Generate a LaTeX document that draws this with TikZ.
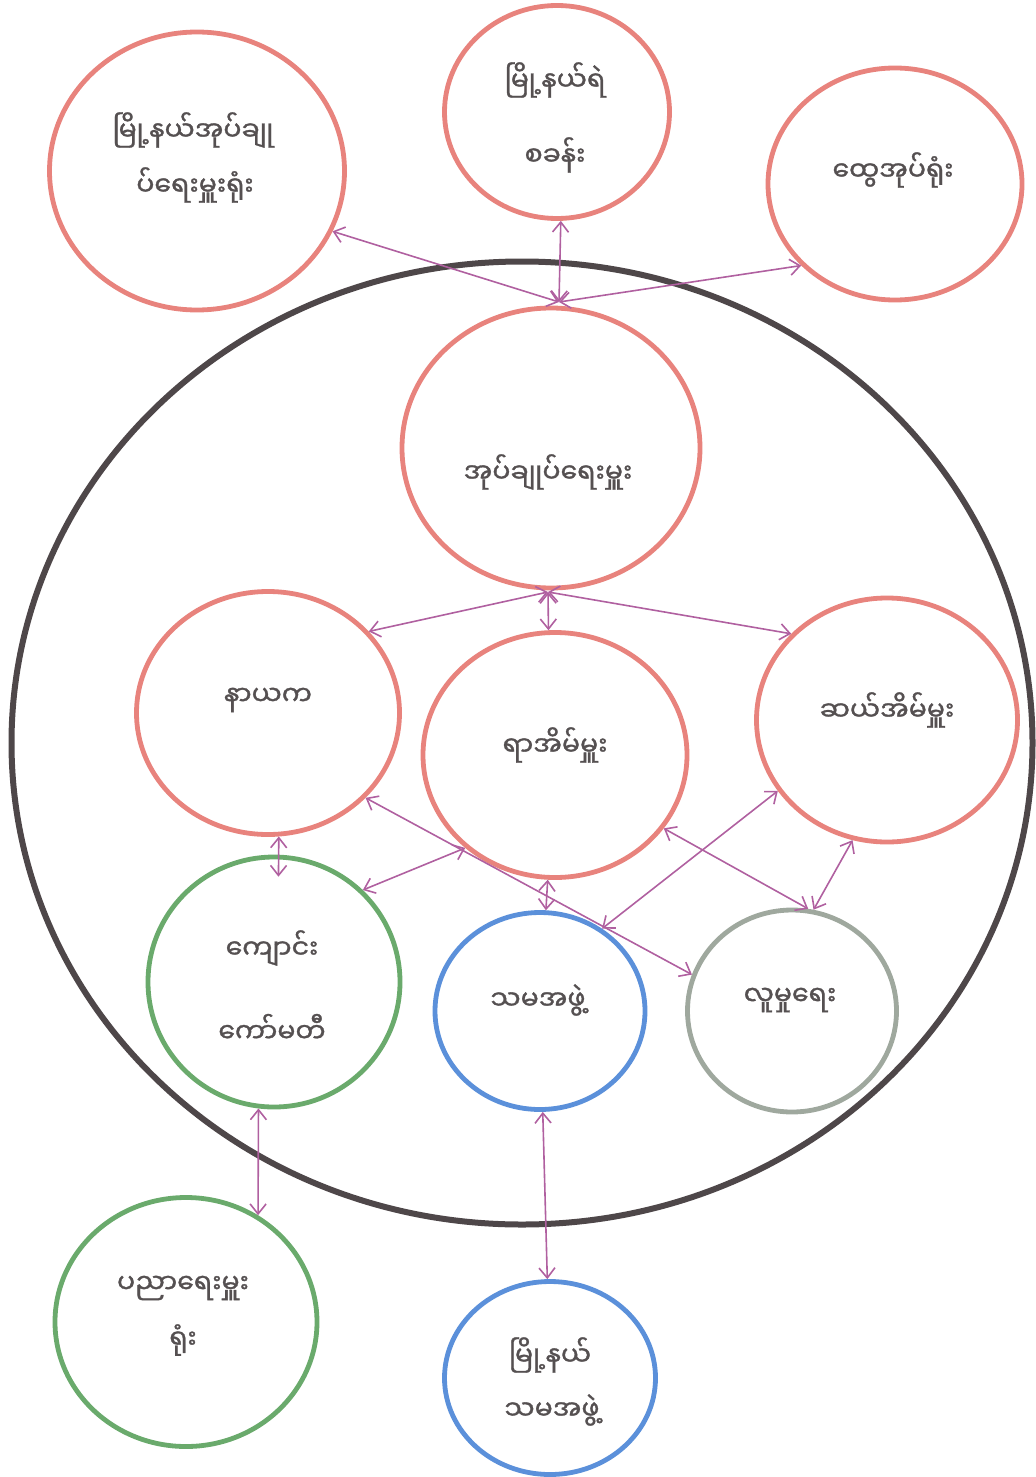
\documentclass[tikz,border=0pt]{standalone}
\usepackage{fontspec}
\newfontfamily\myan[Script=Myanmar,FakeBold=1.2]{Noto Sans Myanmar UI}
\usetikzlibrary{shapes.geometric,arrows.meta}
\definecolor{redc}{HTML}{E8837D}
\definecolor{greenc}{HTML}{6AAA6C}
\definecolor{bluec}{HTML}{5B90DA}
\definecolor{grayc}{HTML}{9FA89E}
\definecolor{outerc}{HTML}{4E4749}
\definecolor{arrc}{HTML}{B060A0}
\definecolor{txtc}{HTML}{555051}
\tikzset{
  circ/.style={ellipse, draw, line width=2.4pt, inner sep=0pt},
  txt/.style={text=txtc, font=\myan\fontsize{13.4}{15}\selectfont, inner sep=0pt},
  link/.style={draw=arrc, line width=0.8pt, {Straight Barb[length=5pt,width=8pt]}-{Straight Barb[length=5pt,width=8pt]}},
}
\begin{document}
\begin{tikzpicture}[x=0.5pt,y=-0.5pt]
\useasboundingbox (0,0) rectangle (1035,1477);
% outer circle
\node[ellipse, draw=outerc, line width=3pt, minimum width=510.5pt, minimum height=481.5pt, inner sep=0pt] (outer) at (522,743) {};
% circles
\node[circ, draw=redc, minimum width=147.5pt, minimum height=139pt] (tl) at (197,171) {};
\node[circ, draw=redc, minimum width=112.5pt, minimum height=106.5pt] (tm) at (557,112) {};
\node[circ, draw=redc, minimum width=127pt, minimum height=116pt] (tr) at (895,184) {};
\node[circ, draw=redc, minimum width=149pt, minimum height=140pt] (ups) at (551,448) {};
\node[circ, draw=redc, minimum width=131.5pt, minimum height=121.5pt] (nay) at (268,713) {};
\node[circ, draw=redc, minimum width=132pt, minimum height=122.5pt] (ya) at (555,755) {};
\node[circ, draw=redc, minimum width=130.5pt, minimum height=122pt] (se) at (887,720) {};
\node[circ, draw=greenc, minimum width=126pt, minimum height=125pt] (kg) at (274,982) {};
\node[circ, draw=bluec, minimum width=105pt, minimum height=98.5pt] (sm) at (540,1011) {};
\node[circ, draw=grayc, minimum width=104.5pt, minimum height=101pt] (lm) at (792,1011) {};
\node[circ, draw=greenc, minimum width=131pt, minimum height=124.5pt] (pd) at (186,1322) {};
\node[circ, draw=bluec, minimum width=105.5pt, minimum height=96.5pt] (msm) at (550,1378) {};
% texts
\node[txt] (tla) at (193,130) {မြို့နယ်အုပ်ချု};
\node[txt] (tlb) at (195,185) {ပ်ရေးမှူးရုံး};
\node[txt] (tma) at (555,80) {မြို့နယ်ရဲ};
\node[txt] (tmb) at (555,155) {စခန်း};
\node[txt] (trt) at (893,170) {ထွေအုပ်ရုံး};
\node[txt] (upst) at (548,472) {အုပ်ချုပ်ရေးမှူး};
\node[txt] (nayt) at (268,700) {နာယက};
\node[txt] (yat) at (555,745) {ရာအိမ်မှူး};
\node[txt] (set) at (887,710) {ဆယ်အိမ်မှူး};
\node[txt] (kga) at (272,948) {ကျောင်း};
\node[txt] (kgb) at (272,1028) {ကော်မတီ};
\node[txt] (smt) at (538,1000) {သမအဖွဲ့};
\node[txt] (lmt) at (790,1000) {လူမှုရေး};
\node[txt] (pda) at (183,1288) {ပညာရေးမှူး};
\node[txt] (pdb) at (183,1340) {ရုံး};
\node[txt] (msma) at (550,1355) {မြို့နယ်};
\node[txt] (msmb) at (552,1410) {သမအဖွဲ့};
% hubs
\coordinate (hub) at (559,302);
\coordinate (hub2) at (548,592);
% connectors
\draw[link] (tl.-24) -- (hub);
\draw[link] (tm.-88) -- (hub);
\draw[link] (hub) -- (tr.221);
\draw[link] (hub2) -- (nay.39);
\draw[link] (hub2) -- (ya.93);
\draw[link] (hub2) -- (se.138.6);
\draw[link] (nay.-85) -- ([yshift=-11pt]kg.88);
\draw[link] (kg.46.6) -- (ya.-134);
\draw[link] (ya) -- (sm);
\draw[link] (nay.-41.9) -- (lm.160.6);
\draw[link] (ya.-34.3) -- (lm.81);
\draw[link] (se.-147.3) -- (sm.53.5);
\draw[link] (se.-106.4) -- (lm.78.3);
\draw[link] (kg.263.5) -- (pd.56);
\draw[link] (sm) -- (msm);
\end{tikzpicture}
\end{document}
